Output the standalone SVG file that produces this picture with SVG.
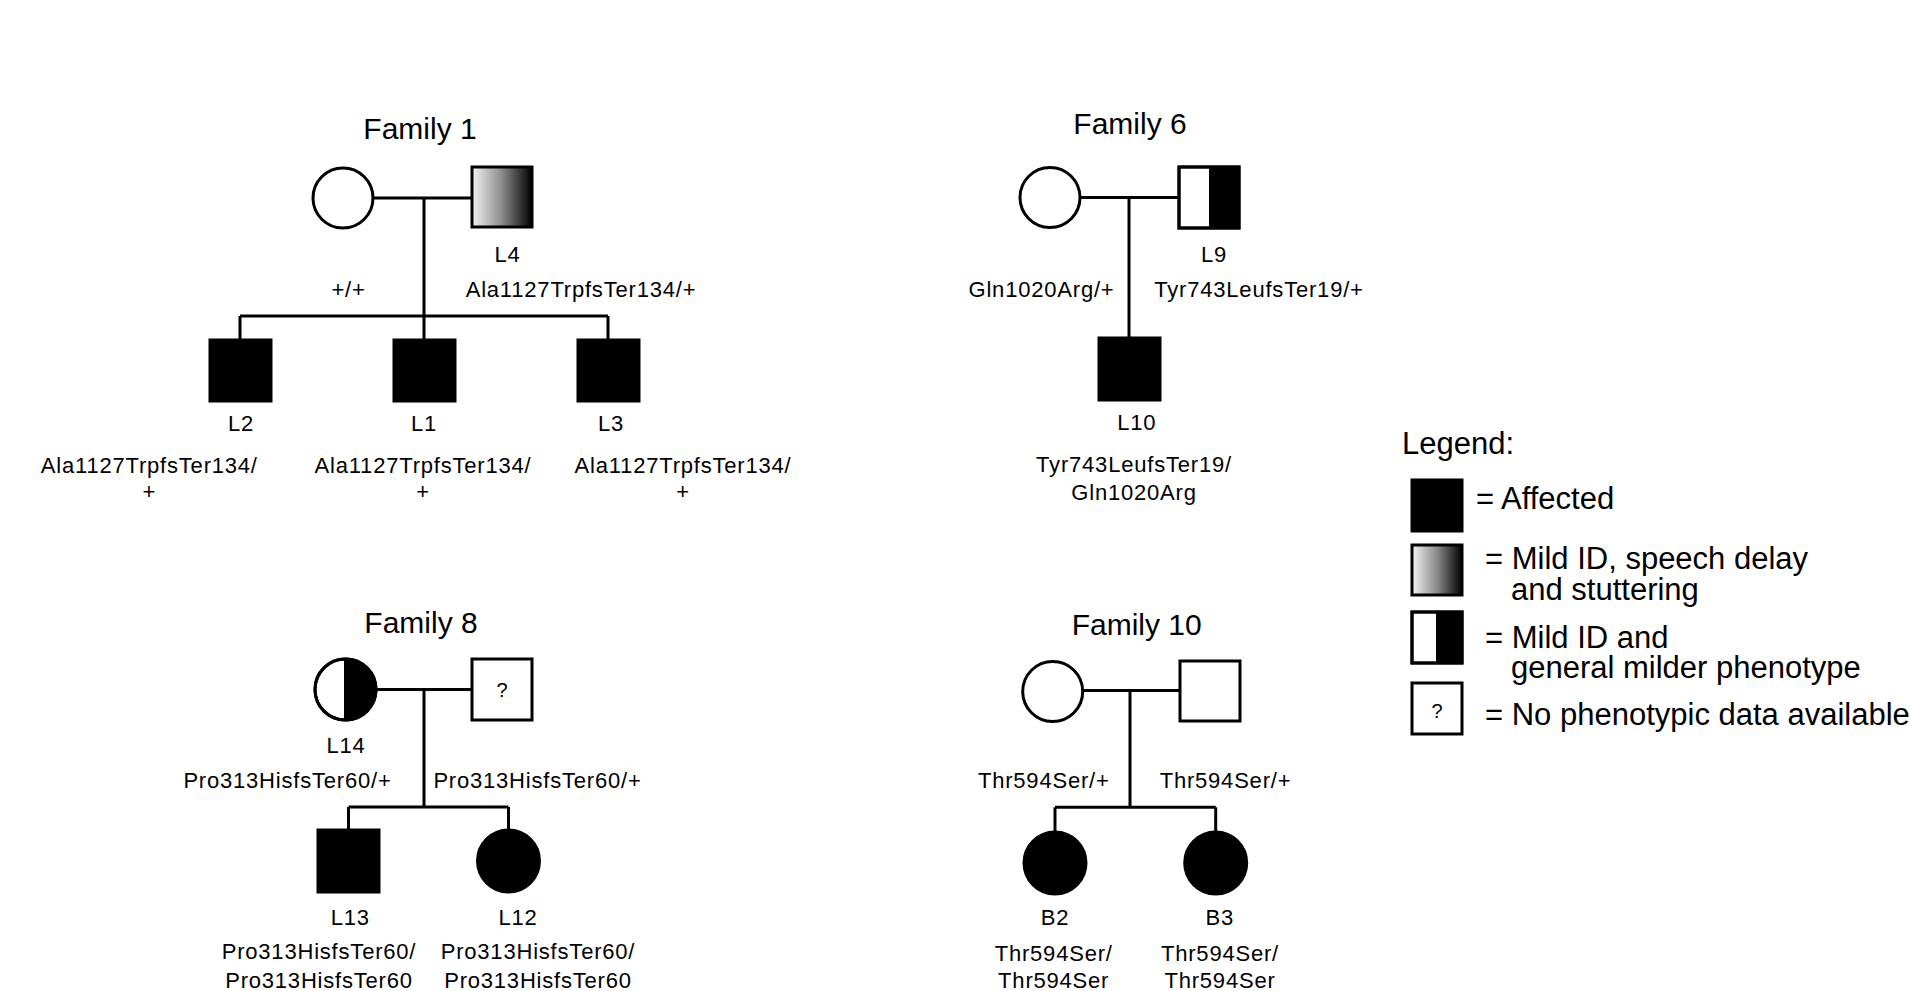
<svg xmlns="http://www.w3.org/2000/svg" width="1910" height="991" viewBox="0 0 1910 991">
<defs>
<linearGradient id="mildGrad" x1="0" y1="0" x2="1" y2="0">
<stop offset="0" stop-color="#f4f4f4"/>
<stop offset="0.5" stop-color="#8a8a8a"/>
<stop offset="1" stop-color="#000"/>
</linearGradient>
</defs>
<style>
.bg{fill:#fff}
.shape{stroke:#000;stroke-width:3;fill:#fff}
.aff{stroke:#000;stroke-width:3;fill:#000}
.grad{stroke:#000;stroke-width:3;fill:url(#mildGrad)}
.half{fill:#000;stroke:none}
.line{stroke:#000;stroke-width:3;fill:none}
.title{font-family:"Liberation Sans",Arial,sans-serif;font-size:30px;fill:#000;text-anchor:middle}
.lbl{font-family:"Liberation Sans",Arial,sans-serif;font-size:22px;letter-spacing:0.8px;fill:#000;text-anchor:middle}
.leg{font-family:"Liberation Sans",Arial,sans-serif;font-size:31px;fill:#000}
.q{font-family:"Liberation Sans",Arial,sans-serif;font-size:20px;fill:#000;text-anchor:middle}
</style>
<rect class="bg" x="0" y="0" width="1910" height="991"/>

<g id="connectors">
<!-- Family 1 -->
<line class="line" x1="373" y1="198" x2="472" y2="198"/>
<line class="line" x1="424" y1="198" x2="424" y2="316"/>
<line class="line" x1="240" y1="316" x2="608" y2="316"/>
<line class="line" x1="240" y1="316" x2="240" y2="340"/>
<line class="line" x1="424" y1="316" x2="424" y2="340"/>
<line class="line" x1="608" y1="316" x2="608" y2="340"/>
<!-- Family 6 -->
<line class="line" x1="1080" y1="197.5" x2="1179" y2="197.5"/>
<line class="line" x1="1129" y1="197.5" x2="1129" y2="338"/>
<!-- Family 8 -->
<line class="line" x1="376" y1="689.5" x2="472" y2="689.5"/>
<line class="line" x1="424" y1="689.5" x2="424" y2="807"/>
<line class="line" x1="348.5" y1="807" x2="508.5" y2="807"/>
<line class="line" x1="348.5" y1="807" x2="348.5" y2="830"/>
<line class="line" x1="508.5" y1="807" x2="508.5" y2="830"/>
<!-- Family 10 -->
<line class="line" x1="1082.7" y1="690.5" x2="1180" y2="690.5"/>
<line class="line" x1="1130" y1="690.5" x2="1130" y2="807.3"/>
<line class="line" x1="1055" y1="807.3" x2="1215.7" y2="807.3"/>
<line class="line" x1="1055" y1="807.3" x2="1055" y2="832"/>
<line class="line" x1="1215.7" y1="807.3" x2="1215.7" y2="832"/>
</g>

<!-- Family 1 -->
<g id="family1">
<text class="title" x="420" y="139">Family 1</text>
<text class="lbl" x="348.5" y="296.7">+/+</text>
</g>
<g id="f1-mother"><circle class="shape" cx="343" cy="198" r="30"/></g>
<g id="f1-L4">
<rect class="grad" x="472" y="167" width="60" height="60"/>
<text class="lbl" x="507.5" y="262.3">L4</text>
<text class="lbl" x="581" y="296.7">Ala1127TrpfsTer134/+</text>
</g>
<g id="f1-L2">
<rect class="aff" x="210" y="340" width="61" height="61"/>
<text class="lbl" x="241" y="430.7">L2</text>
<text class="lbl" x="149.3" y="473.3">Ala1127TrpfsTer134/</text>
<text class="lbl" x="149.3" y="499">+</text>
</g>
<g id="f1-L1">
<rect class="aff" x="394" y="340" width="61" height="61"/>
<text class="lbl" x="424" y="430.7">L1</text>
<text class="lbl" x="423" y="473.3">Ala1127TrpfsTer134/</text>
<text class="lbl" x="423" y="499">+</text>
</g>
<g id="f1-L3">
<rect class="aff" x="578" y="340" width="61" height="61"/>
<text class="lbl" x="611" y="430.7">L3</text>
<text class="lbl" x="683" y="473.3">Ala1127TrpfsTer134/</text>
<text class="lbl" x="683" y="499">+</text>
</g>

<!-- Family 6 -->
<g id="family6">
<text class="title" x="1130" y="134">Family 6</text>
</g>
<g id="f6-mother">
<circle class="shape" cx="1050" cy="197.5" r="30"/>
<text class="lbl" x="1041.5" y="296.7">Gln1020Arg/+</text>
</g>
<g id="f6-L9">
<rect class="shape" x="1179" y="167" width="60" height="61"/>
<rect class="half" x="1209" y="167" width="30" height="61"/>
<rect class="line" x="1179" y="167" width="60" height="61"/>
<text class="lbl" x="1214" y="261.7">L9</text>
<text class="lbl" x="1259" y="296.7">Tyr743LeufsTer19/+</text>
</g>
<g id="f6-L10">
<rect class="aff" x="1099" y="338" width="61" height="62"/>
<text class="lbl" x="1136.7" y="430">L10</text>
<text class="lbl" x="1134" y="471.7">Tyr743LeufsTer19/</text>
<text class="lbl" x="1134" y="500">Gln1020Arg</text>
</g>

<!-- Family 8 -->
<g id="family8">
<text class="title" x="421" y="632.7">Family 8</text>
</g>
<g id="f8-L14">
<circle class="shape" cx="345.5" cy="689.5" r="30.5"/>
<path class="half" d="M345.5 659 A30.5 30.5 0 0 1 345.5 720 Z"/>
<circle class="line" cx="345.5" cy="689.5" r="30.5"/>
<line class="line" x1="345.5" y1="659" x2="345.5" y2="720"/>
<text class="lbl" x="346" y="753.3">L14</text>
<text class="lbl" x="287.5" y="788.3">Pro313HisfsTer60/+</text>
</g>
<g id="f8-father">
<rect class="shape" x="472" y="659" width="60" height="61"/>
<text class="q" x="502" y="697">?</text>
<text class="lbl" x="537.5" y="788.3">Pro313HisfsTer60/+</text>
</g>
<g id="f8-L13">
<rect class="aff" x="318" y="830" width="61" height="62"/>
<text class="lbl" x="350.3" y="925">L13</text>
<text class="lbl" x="319" y="959.3">Pro313HisfsTer60/</text>
<text class="lbl" x="319" y="988.3">Pro313HisfsTer60</text>
</g>
<g id="f8-L12">
<circle class="aff" cx="508.5" cy="861" r="31"/>
<text class="lbl" x="518" y="925">L12</text>
<text class="lbl" x="538" y="959.3">Pro313HisfsTer60/</text>
<text class="lbl" x="538" y="988.3">Pro313HisfsTer60</text>
</g>

<!-- Family 10 -->
<g id="family10">
<text class="title" x="1136.7" y="635">Family 10</text>
</g>
<g id="f10-mother">
<circle class="shape" cx="1052.7" cy="691.5" r="30"/>
<text class="lbl" x="1043.8" y="788.3">Thr594Ser/+</text>
</g>
<g id="f10-father">
<rect class="shape" x="1180" y="661" width="60" height="60"/>
<text class="lbl" x="1225.5" y="788.3">Thr594Ser/+</text>
</g>
<g id="f10-B2">
<circle class="aff" cx="1055" cy="863" r="31"/>
<text class="lbl" x="1055" y="925">B2</text>
<text class="lbl" x="1053.7" y="961">Thr594Ser/</text>
<text class="lbl" x="1053.7" y="988.3">Thr594Ser</text>
</g>
<g id="f10-B3">
<circle class="aff" cx="1215.7" cy="863" r="31"/>
<text class="lbl" x="1219.7" y="925">B3</text>
<text class="lbl" x="1220" y="961">Thr594Ser/</text>
<text class="lbl" x="1220" y="988.3">Thr594Ser</text>
</g>

<!-- Legend -->
<g id="legend">
<text class="leg" x="1402" y="454">Legend:</text>
</g>
<g id="legend-affected">
<rect class="aff" x="1412" y="480" width="50" height="51"/>
<text class="leg" x="1476" y="509.3">= Affected</text>
</g>
<g id="legend-mild">
<rect class="grad" x="1412" y="545" width="50" height="50"/>
<text class="leg" x="1485" y="569.3">= Mild ID, speech delay</text>
<text class="leg" x="1511" y="600">and stuttering</text>
</g>
<g id="legend-half">
<rect class="shape" x="1412" y="612" width="50" height="51"/>
<rect class="half" x="1436" y="612" width="26" height="51"/>
<rect class="line" x="1412" y="612" width="50" height="51"/>
<text class="leg" x="1485" y="647.7">= Mild ID and</text>
<text class="leg" x="1511" y="678.3">general milder phenotype</text>
</g>
<g id="legend-unknown">
<rect class="shape" x="1412" y="683" width="50" height="51"/>
<text class="q" x="1437" y="718">?</text>
<text class="leg" x="1485" y="725">= No phenotypic data available</text>
</g>
</svg>
